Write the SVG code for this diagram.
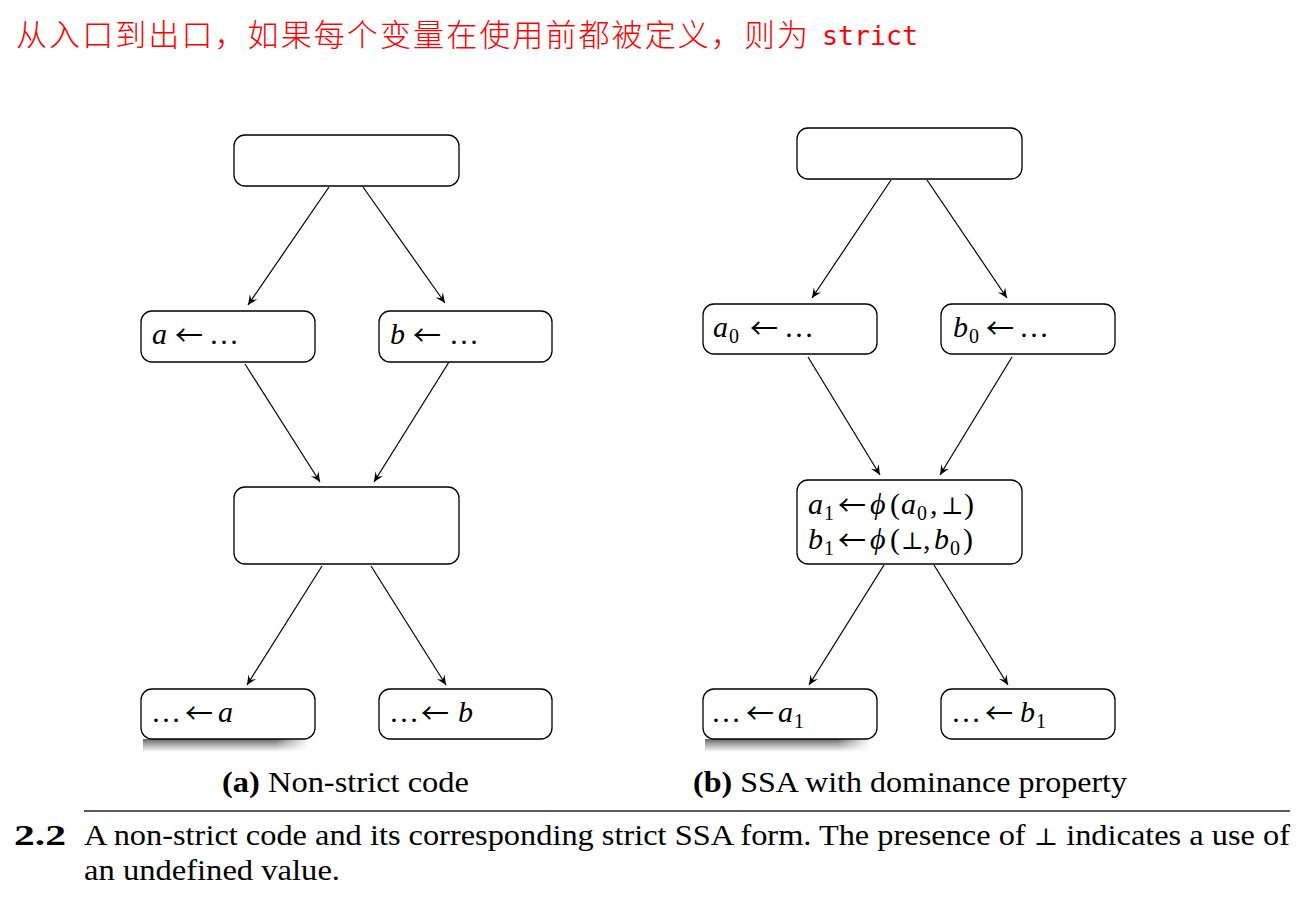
<svg xmlns="http://www.w3.org/2000/svg" width="1305" height="901" viewBox="0 0 1305 901">
<style>
.box{fill:#fff;stroke:#000;stroke-width:1.3}
.edge{stroke:#000;stroke-width:1.2;fill:none;marker-end:url(#arr)}
.m{font-family:"Liberation Serif","DejaVu Serif",serif;font-size:30px;fill:#000}
.ar{font-family:"Noto Sans CJK SC",sans-serif;font-size:28px;font-style:normal}
.bot{font-family:"DejaVu Serif",serif;font-size:24px}
.i{font-style:italic}
.s{font-size:20px;font-style:normal}
.cap{font-family:"Liberation Serif","DejaVu Serif",serif;font-size:30px;fill:#000}
.b{font-weight:bold}
</style>
<defs>
<marker id="arr" viewBox="-11 -6 12 12" refX="0" refY="0" markerWidth="12" markerHeight="12" markerUnits="userSpaceOnUse" orient="auto">
<path d="M0,0 L-10,-4.5 Q-6.5,-1 -6.5,0 Q-6.5,1 -10,4.5 Z" fill="#000"/>
</marker>
<linearGradient id="shV" x1="0" y1="0" x2="0" y2="1">
<stop offset="0" stop-color="#666"/>
<stop offset="0.35" stop-color="#a0a0a0"/>
<stop offset="1" stop-color="#fff"/>
</linearGradient>
<linearGradient id="shH" x1="0" y1="0" x2="1" y2="0">
<stop offset="0" stop-color="#fff"/>
<stop offset="0.8" stop-color="#fff"/>
<stop offset="1" stop-color="#000"/>
</linearGradient>
<mask id="shM" maskContentUnits="objectBoundingBox">
<rect x="0" y="0" width="1" height="1" fill="url(#shH)"/>
</mask>
</defs>
<rect width="1305" height="901" fill="#fff"/>

<g id="title">
<text x="16" y="46" font-family="'Noto Sans CJK SC',sans-serif" font-size="31" font-weight="300" fill="#f00" textLength="792" lengthAdjust="spacing">从入口到出口，如果每个变量在使用前都被定义，则为</text>
<text x="822" y="45" font-family="'DejaVu Sans Mono','Liberation Mono',monospace" font-size="27" fill="#f00" textLength="96" lengthAdjust="spacingAndGlyphs">strict</text>
</g>

<g id="connectors">
<line class="edge" x1="329" y1="187" x2="248" y2="305"/>
<line class="edge" x1="363" y1="187" x2="445" y2="303"/>
<line class="edge" x1="245" y1="364" x2="320" y2="482"/>
<line class="edge" x1="449" y1="362" x2="374" y2="482"/>
<line class="edge" x1="322" y1="566" x2="247" y2="685"/>
<line class="edge" x1="371" y1="566" x2="446" y2="685"/>
<line class="edge" x1="891" y1="180" x2="812" y2="298"/>
<line class="edge" x1="927" y1="180" x2="1007" y2="298"/>
<line class="edge" x1="808" y1="357" x2="880" y2="475"/>
<line class="edge" x1="1012" y1="357" x2="940" y2="475"/>
<line class="edge" x1="884" y1="565" x2="809" y2="685"/>
<line class="edge" x1="934" y1="565" x2="1008" y2="685"/>
</g>

<g id="a-entry"><rect class="box" x="234" y="135" width="225" height="51" rx="11"/></g>
<g id="a-defa"><rect class="box" x="141" y="311" width="174" height="51" rx="11"/>
<text class="m" y="344"><tspan class="i" x="152">a</tspan><tspan class="ar" x="175" y="346">←</tspan><tspan x="209" y="344">…</tspan></text></g>
<g id="a-defb"><rect class="box" x="379" y="311" width="173" height="51" rx="11"/>
<text class="m" y="344"><tspan class="i" x="390">b</tspan><tspan class="ar" x="413" y="346">←</tspan><tspan x="449" y="344">…</tspan></text></g>
<g id="a-join"><rect class="box" x="234" y="487" width="225" height="77" rx="11"/></g>
<g id="a-usea">
<rect x="143" y="739" width="166" height="13" fill="url(#shV)" mask="url(#shM)"/>
<rect class="box" x="141" y="689" width="174" height="50" rx="11"/>
<text class="m" y="722"><tspan x="151">…</tspan><tspan class="ar" x="185" y="724">←</tspan><tspan class="i" x="218" y="722">a</tspan></text></g>
<g id="a-useb"><rect class="box" x="379" y="689" width="173" height="50" rx="11"/>
<text class="m" y="722"><tspan x="389">…</tspan><tspan class="ar" x="421" y="724">←</tspan><tspan class="i" x="458" y="722">b</tspan></text></g>

<g id="b-entry"><rect class="box" x="797" y="128" width="225" height="51" rx="11"/></g>
<g id="b-defa"><rect class="box" x="703" y="304" width="174" height="50" rx="11"/>
<text class="m" y="337"><tspan class="i" x="713">a</tspan><tspan class="s" x="729" y="343">0</tspan><tspan class="ar" x="750" y="339">←</tspan><tspan x="784" y="337">…</tspan></text></g>
<g id="b-defb"><rect class="box" x="941" y="304" width="174" height="50" rx="11"/>
<text class="m" y="337"><tspan class="i" x="953">b</tspan><tspan class="s" x="969" y="343">0</tspan><tspan class="ar" x="986" y="339">←</tspan><tspan x="1019" y="337">…</tspan></text></g>
<g id="b-phi"><rect class="box" x="797" y="480" width="225" height="84" rx="11"/>
<text class="m" y="514"><tspan class="i" x="808">a</tspan><tspan class="s" x="824" y="520">1</tspan><tspan class="ar" x="838" y="516">←</tspan><tspan class="i" x="870" y="514">ϕ</tspan><tspan x="890">(</tspan><tspan class="i" x="901">a</tspan><tspan class="s" x="917" y="520">0</tspan><tspan x="930" y="514">,</tspan><tspan class="bot" x="941">⊥</tspan><tspan x="964">)</tspan></text>
<text class="m" y="549"><tspan class="i" x="808">b</tspan><tspan class="s" x="824" y="555">1</tspan><tspan class="ar" x="838" y="551">←</tspan><tspan class="i" x="870" y="549">ϕ</tspan><tspan x="890">(</tspan><tspan class="bot" x="901">⊥</tspan><tspan x="923">,</tspan><tspan class="i" x="934">b</tspan><tspan class="s" x="950" y="555">0</tspan><tspan x="963" y="549">)</tspan></text>
</g>
<g id="b-usea">
<rect x="705" y="739" width="166" height="13" fill="url(#shV)" mask="url(#shM)"/>
<rect class="box" x="703" y="689" width="174" height="50" rx="11"/>
<text class="m" y="722"><tspan x="711">…</tspan><tspan class="ar" x="746" y="724">←</tspan><tspan class="i" x="778" y="722">a</tspan><tspan class="s" x="794" y="728">1</tspan></text></g>
<g id="b-useb"><rect class="box" x="941" y="689" width="174" height="50" rx="11"/>
<text class="m" y="722"><tspan x="951">…</tspan><tspan class="ar" x="985" y="724">←</tspan><tspan class="i" x="1020" y="722">b</tspan><tspan class="s" x="1036" y="728">1</tspan></text></g>

<g id="captions">
<text class="cap" x="222" y="792" textLength="247" lengthAdjust="spacingAndGlyphs"><tspan class="b">(a)</tspan> Non-strict code</text>
<text class="cap" x="693" y="792" textLength="434" lengthAdjust="spacingAndGlyphs"><tspan class="b">(b)</tspan> SSA with dominance property</text>
<line x1="84" y1="811" x2="1290" y2="811" stroke="#222" stroke-width="1.5"/>
<text class="cap b" x="14" y="845" textLength="52" lengthAdjust="spacingAndGlyphs">2.2</text>
<text class="cap" x="84" y="845" textLength="1206" lengthAdjust="spacingAndGlyphs">A non-strict code and its corresponding strict SSA form. The presence of <tspan font-family="DejaVu Serif" font-size="24">⊥</tspan> indicates a use of</text>
<text class="cap" x="84" y="880" textLength="256" lengthAdjust="spacingAndGlyphs">an undefined value.</text>
</g>
</svg>
